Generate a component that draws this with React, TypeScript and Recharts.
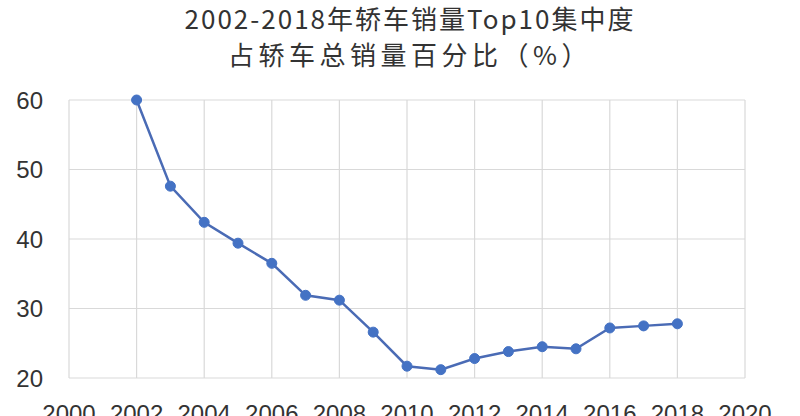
import { LineChart, Line, XAxis, YAxis, CartesianGrid } from "recharts";

// 年份与集中度（%）
const years = [
  2002, 2003, 2004, 2005, 2006, 2007, 2008, 2009, 2010, 2011, 2012, 2013,
  2014, 2015, 2016, 2017, 2018,
];
const shares = [
  60.0, 47.6, 42.4, 39.4, 36.5, 31.9, 31.2, 26.6, 21.7, 21.2, 22.8, 23.8,
  24.5, 24.2, 27.2, 27.5, 27.8,
];
const xTicks = [2000, 2002, 2004, 2006, 2008, 2010, 2012, 2014, 2016, 2018, 2020];
const yTicks = [20, 30, 40, 50, 60];
const titleLines = ["2002-2018年轿车销量Top10集中度", "占轿车总销量百分比（%）"];

const data = years.map((year, i) => ({ year, share: shares[i] }));

const tickStyle = { fontSize: 24, fill: "#333", fontFamily: "Arial, 'Liberation Sans', sans-serif" };

export default function App() {
  return (
    <div style={{ position: "absolute", left: 0, top: 0, width: 800, height: 416, background: "#fff", overflow: "hidden" }}>
      {titleLines.map((t, i) => (
        <div
          key={t}
          style={{
            position: "absolute",
            left: 0,
            width: 820,
            top: i === 0 ? 0 : 36,
            textAlign: "center",
            fontSize: 26,
            letterSpacing: i === 0 ? 2 : 4.5,
            lineHeight: "36px",
            color: "#333",
            fontFamily: "'Noto Sans CJK SC', sans-serif",
            zIndex: 1,
          }}
        >
          {t}
        </div>
      ))}
      <LineChart width={800} height={416} data={data} margin={{ top: 100, right: 55, bottom: 0, left: 0 }}>
        <CartesianGrid stroke="#d9d9d9" strokeWidth={1.2} />
        <XAxis
          dataKey="year"
          type="number"
          domain={[2000, 2020]}
          ticks={xTicks}
          axisLine={false}
          tickLine={false}
          tickMargin={21}
          height={38}
          interval={0}
          tick={tickStyle}
        />
        <YAxis
          type="number"
          domain={[20, 60]}
          ticks={yTicks}
          axisLine={false}
          tickLine={false}
          tickMargin={20}
          width={69}
          tick={tickStyle}
        />
        <Line
          type="linear"
          dataKey="share"
          stroke="#4a6bb5"
          strokeWidth={2.5}
          dot={{ r: 5, fill: "#4472c4", stroke: "#4472c4", strokeWidth: 1 }}
          isAnimationActive={false}
        />
      </LineChart>
    </div>
  );
}
